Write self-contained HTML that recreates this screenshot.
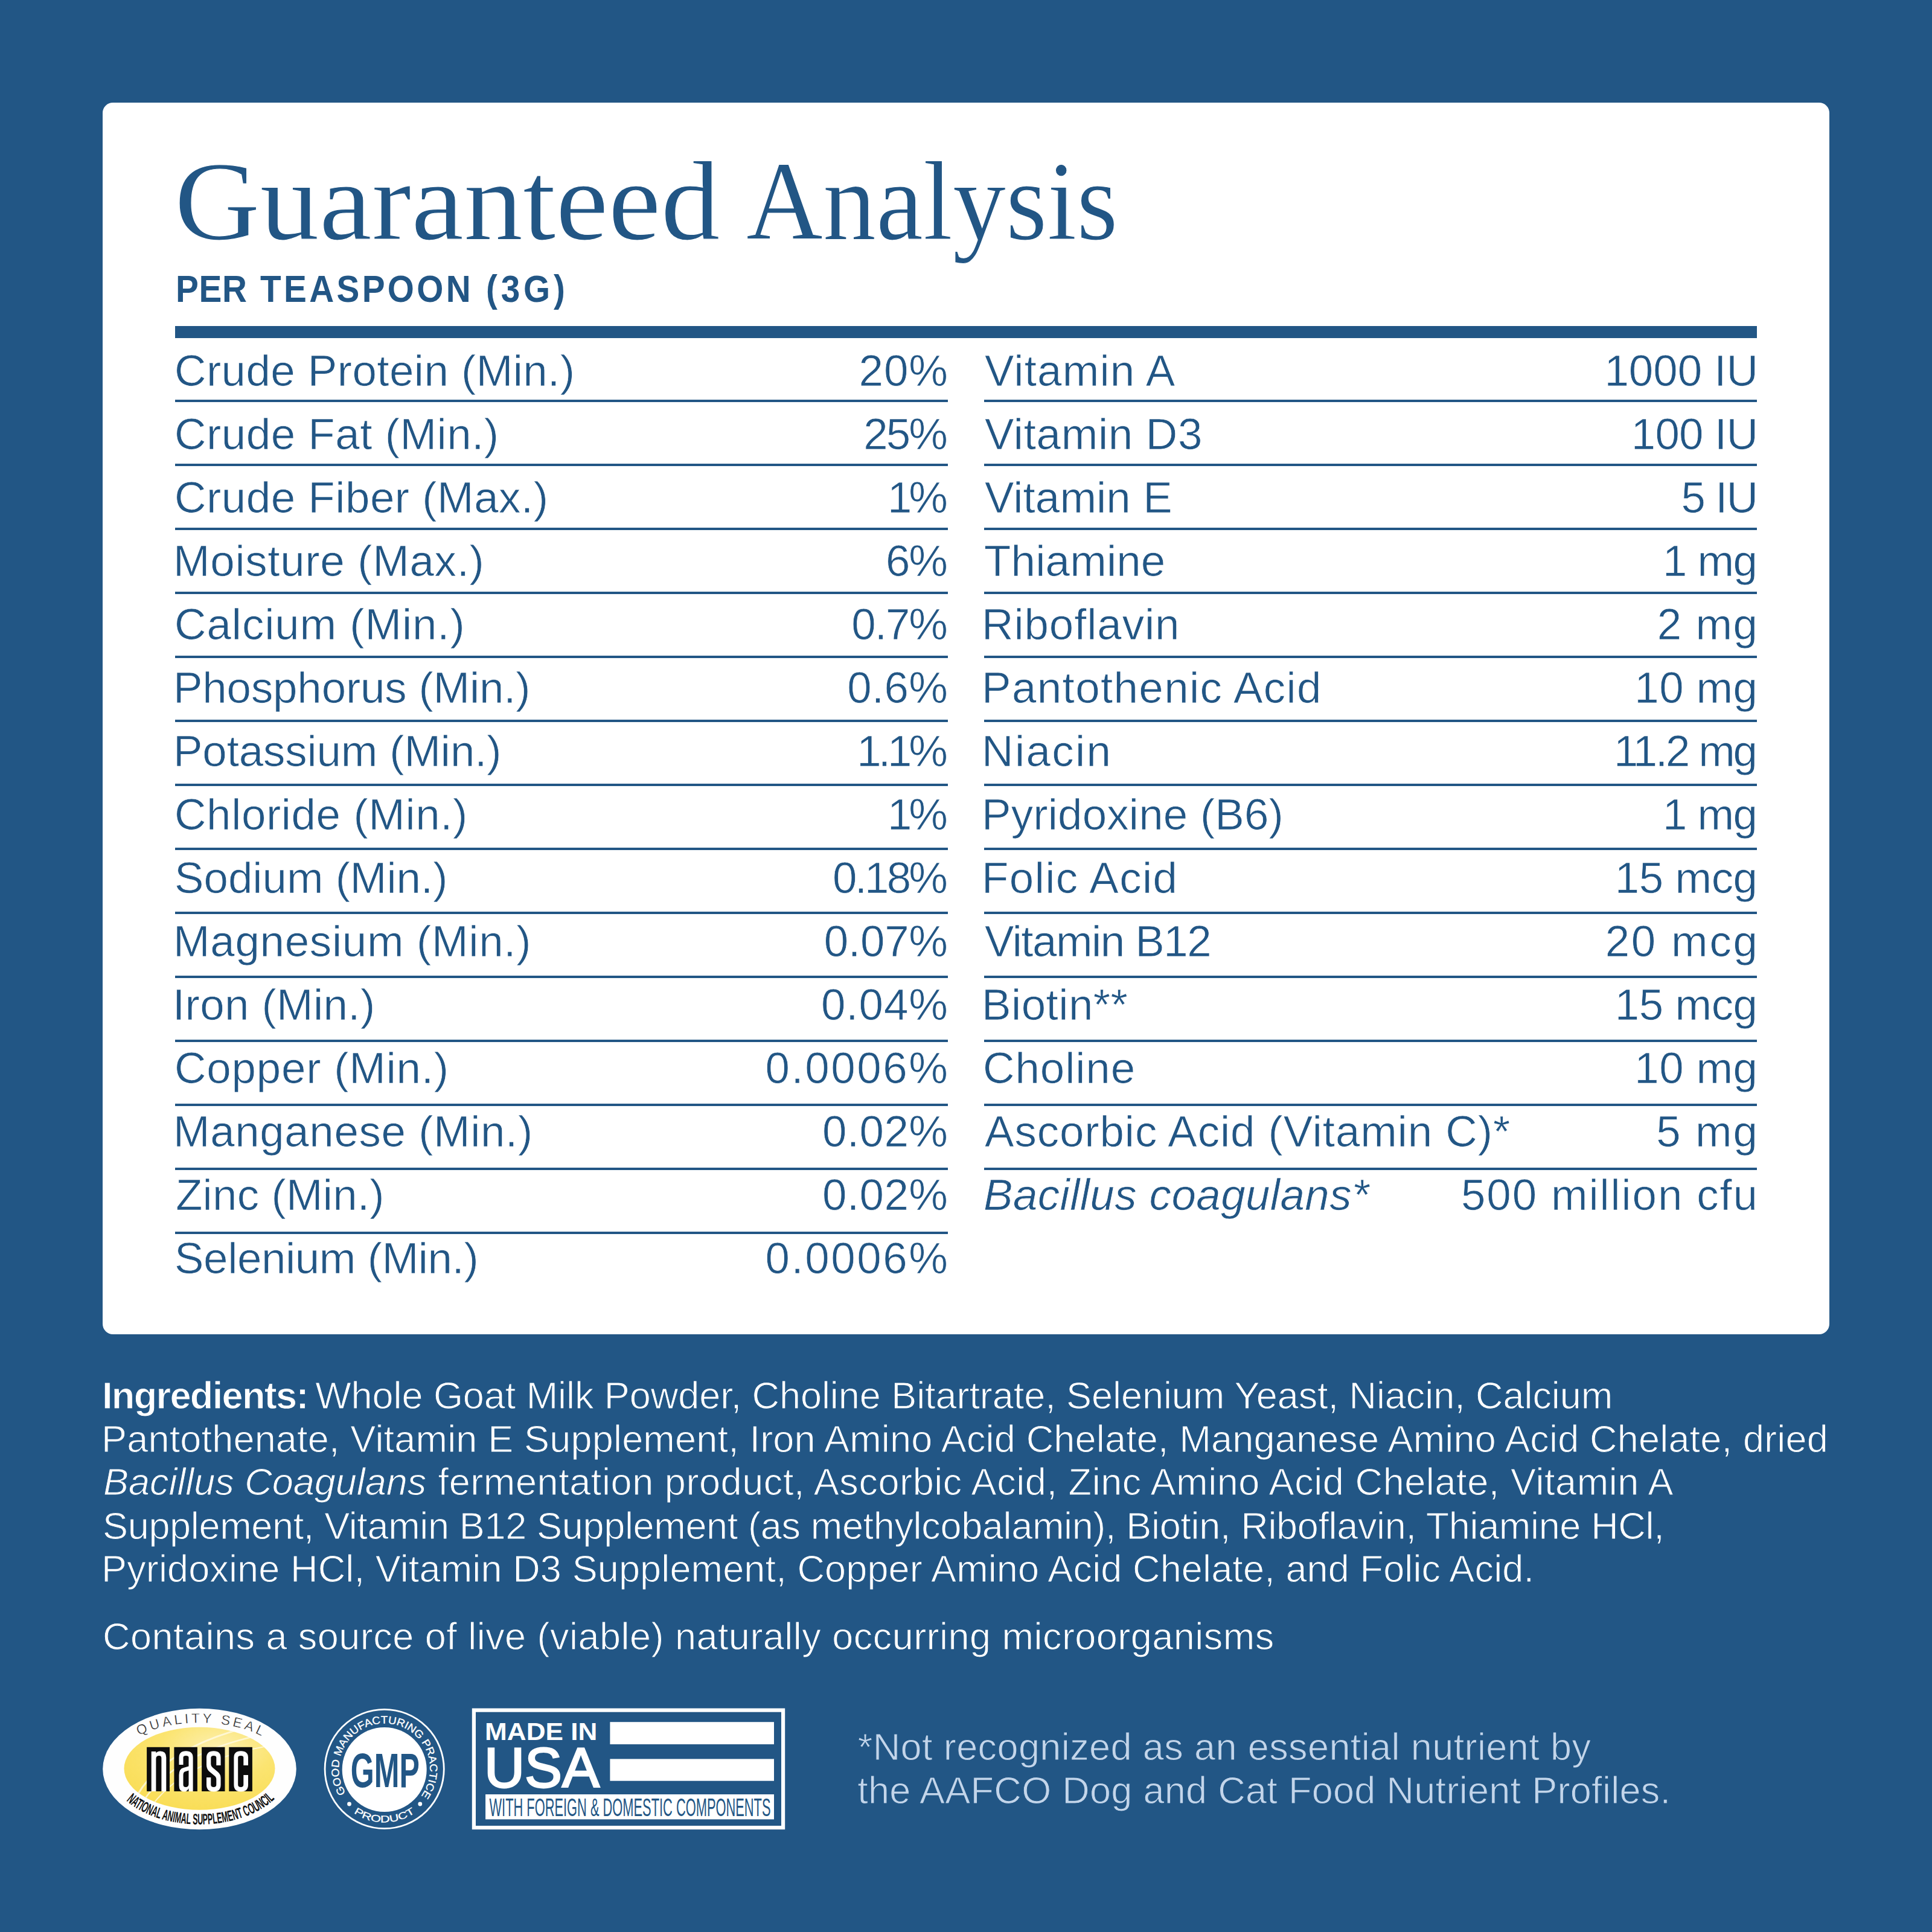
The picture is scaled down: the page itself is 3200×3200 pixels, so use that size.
<!DOCTYPE html>
<html><head><meta charset="utf-8"><title>Guaranteed Analysis</title>
<style>
*{margin:0;padding:0;box-sizing:border-box}
html,body{width:3200px;height:3200px;overflow:hidden;background:#225685}
body{position:relative;font-family:"Liberation Sans",sans-serif;color:#225685}
.a{position:absolute;white-space:nowrap}
.card{position:absolute;left:170px;top:170px;width:2860px;height:2040px;background:#fff;border-radius:17px}
.rl{position:absolute;background:#225685}
.t{position:absolute;white-space:nowrap;font-size:72.7px;line-height:72.7px;-webkit-text-stroke:0.7px #fff}
.ing{position:absolute;white-space:nowrap;font-size:63px;line-height:63px;color:#fff;-webkit-text-stroke:1px #225685}
.foot{position:absolute;white-space:nowrap;font-size:63px;line-height:63px;color:#c3d5ea;-webkit-text-stroke:1px #225685}
</style></head><body>
<div class="card"></div>
<div class="a" style="left:288.7px;top:240.2px;letter-spacing:0.00px;font-family:'Liberation Serif',serif;font-size:186px;line-height:186px;-webkit-text-stroke:1.1px #fff;transform:scaleX(1.0542);transform-origin:0 0">Guaranteed</div>
<div class="a" style="left:1235.7px;top:240.2px;letter-spacing:0.00px;font-family:'Liberation Serif',serif;font-size:186px;line-height:186px;-webkit-text-stroke:1.1px #fff;transform:scaleX(0.9458);transform-origin:0 0">Analysis</div>
<div class="a" style="left:290.5px;top:446.7px;letter-spacing:0.75px;font-weight:bold;font-size:63px;line-height:63px;transform:scaleX(0.9000);transform-origin:0 0">PER</div>
<div class="a" style="left:431.0px;top:446.7px;letter-spacing:4.85px;font-weight:bold;font-size:63px;line-height:63px;transform:scaleX(0.9000);transform-origin:0 0">TEASPOON</div>
<div class="a" style="left:804.5px;top:446.7px;letter-spacing:6.50px;font-weight:bold;font-size:63px;line-height:63px;transform:scaleX(0.9000);transform-origin:0 0">(3G)</div>
<div class="rl" style="left:290px;top:540px;width:2620px;height:20px"></div>
<div class="t" style="left:289.0px;top:578.3px;letter-spacing:0.45px">Crude Protein (Min.)</div>
<div class="t" style="right:1630.0px;top:578.3px;letter-spacing:1.00px;margin-right:-1.00px">20%</div>
<div class="t" style="left:289.0px;top:683.3px;letter-spacing:0.53px">Crude Fat (Min.)</div>
<div class="t" style="right:1630.0px;top:683.3px;letter-spacing:-2.90px;margin-right:2.90px">25%</div>
<div class="t" style="left:289.0px;top:788.3px;letter-spacing:0.53px">Crude Fiber (Max.)</div>
<div class="t" style="right:1630.0px;top:788.3px;letter-spacing:-5.00px;margin-right:5.00px">1%</div>
<div class="t" style="left:287.0px;top:893.3px;letter-spacing:0.71px">Moisture (Max.)</div>
<div class="t" style="right:1630.0px;top:893.3px;letter-spacing:-2.00px;margin-right:2.00px">6%</div>
<div class="t" style="left:289.0px;top:998.3px;letter-spacing:0.94px">Calcium (Min.)</div>
<div class="t" style="right:1630.0px;top:998.3px;letter-spacing:-2.00px;margin-right:2.00px">0.7%</div>
<div class="t" style="left:287.0px;top:1103.3px;letter-spacing:-0.15px">Phosphorus (Min.)</div>
<div class="t" style="right:1630.0px;top:1103.3px;letter-spacing:0.33px;margin-right:-0.33px">0.6%</div>
<div class="t" style="left:287.0px;top:1208.3px;letter-spacing:-0.12px">Potassium (Min.)</div>
<div class="t" style="right:1630.0px;top:1208.3px;letter-spacing:-5.00px;margin-right:5.00px">1.1%</div>
<div class="t" style="left:289.0px;top:1313.3px;letter-spacing:0.62px">Chloride (Min.)</div>
<div class="t" style="right:1630.0px;top:1313.3px;letter-spacing:-5.00px;margin-right:5.00px">1%</div>
<div class="t" style="left:289.0px;top:1418.3px;letter-spacing:-0.00px">Sodium (Min.)</div>
<div class="t" style="right:1630.0px;top:1418.3px;letter-spacing:-3.80px;margin-right:3.80px">0.18%</div>
<div class="t" style="left:287.0px;top:1523.3px;letter-spacing:0.72px">Magnesium (Min.)</div>
<div class="t" style="right:1630.0px;top:1523.3px;letter-spacing:-0.20px;margin-right:0.20px">0.07%</div>
<div class="t" style="left:286.0px;top:1628.3px;letter-spacing:0.40px">Iron (Min.)</div>
<div class="t" style="right:1630.0px;top:1628.3px;letter-spacing:1.00px;margin-right:-1.00px">0.04%</div>
<div class="t" style="left:289.0px;top:1733.3px;letter-spacing:0.81px">Copper (Min.)</div>
<div class="t" style="right:1630.0px;top:1733.3px;letter-spacing:2.61px;margin-right:-2.61px">0.0006%</div>
<div class="t" style="left:287.0px;top:1838.3px;letter-spacing:0.62px">Manganese (Min.)</div>
<div class="t" style="right:1630.0px;top:1838.3px;letter-spacing:0.45px;margin-right:-0.45px">0.02%</div>
<div class="t" style="left:291.0px;top:1943.3px;letter-spacing:0.22px">Zinc (Min.)</div>
<div class="t" style="right:1630.0px;top:1943.3px;letter-spacing:0.45px;margin-right:-0.45px">0.02%</div>
<div class="t" style="left:289.0px;top:2048.3px;letter-spacing:-0.38px">Selenium (Min.)</div>
<div class="t" style="right:1630.0px;top:2048.3px;letter-spacing:2.61px;margin-right:-2.61px">0.0006%</div>
<div class="rl" style="left:290px;top:662px;width:1280px;height:4px"></div>
<div class="rl" style="left:290px;top:768px;width:1280px;height:4px"></div>
<div class="rl" style="left:290px;top:874px;width:1280px;height:4px"></div>
<div class="rl" style="left:290px;top:980px;width:1280px;height:4px"></div>
<div class="rl" style="left:290px;top:1086px;width:1280px;height:4px"></div>
<div class="rl" style="left:290px;top:1192px;width:1280px;height:4px"></div>
<div class="rl" style="left:290px;top:1298px;width:1280px;height:4px"></div>
<div class="rl" style="left:290px;top:1404px;width:1280px;height:4px"></div>
<div class="rl" style="left:290px;top:1510px;width:1280px;height:4px"></div>
<div class="rl" style="left:290px;top:1616px;width:1280px;height:4px"></div>
<div class="rl" style="left:290px;top:1722px;width:1280px;height:4px"></div>
<div class="rl" style="left:290px;top:1828px;width:1280px;height:4px"></div>
<div class="rl" style="left:290px;top:1934px;width:1280px;height:4px"></div>
<div class="rl" style="left:290px;top:2040px;width:1280px;height:4px"></div>
<div class="t" style="left:1631.0px;top:578.3px;letter-spacing:1.20px">Vitamin A</div>
<div class="t" style="right:288.0px;top:578.3px;letter-spacing:0.00px;margin-right:-0.00px">1000 IU</div>
<div class="t" style="left:1631.0px;top:683.3px;letter-spacing:0.70px">Vitamin D3</div>
<div class="t" style="right:288.0px;top:683.3px;letter-spacing:-0.80px;margin-right:0.80px">100 IU</div>
<div class="t" style="left:1631.0px;top:788.3px;letter-spacing:0.12px">Vitamin E</div>
<div class="t" style="right:288.0px;top:788.3px;letter-spacing:-1.94px;margin-right:1.94px">5 IU</div>
<div class="t" style="left:1630.0px;top:893.3px;letter-spacing:0.19px">Thiamine</div>
<div class="t" style="right:289.0px;top:893.3px;letter-spacing:-1.54px;margin-right:1.54px">1 mg</div>
<div class="t" style="left:1626.0px;top:998.3px;letter-spacing:0.92px">Riboflavin</div>
<div class="t" style="right:289.0px;top:998.3px;letter-spacing:1.52px;margin-right:-1.52px">2 mg</div>
<div class="t" style="left:1626.0px;top:1103.3px;letter-spacing:1.40px">Pantothenic Acid</div>
<div class="t" style="right:289.0px;top:1103.3px;letter-spacing:0.40px;margin-right:-0.40px">10 mg</div>
<div class="t" style="left:1626.0px;top:1208.3px;letter-spacing:2.40px">Niacin</div>
<div class="t" style="right:289.0px;top:1208.3px;letter-spacing:-3.19px;margin-right:3.19px">11.2 mg</div>
<div class="t" style="left:1626.0px;top:1313.3px;letter-spacing:0.21px">Pyridoxine (B6)</div>
<div class="t" style="right:289.0px;top:1313.3px;letter-spacing:-1.54px;margin-right:1.54px">1 mg</div>
<div class="t" style="left:1626.0px;top:1418.3px;letter-spacing:1.43px">Folic Acid</div>
<div class="t" style="right:289.0px;top:1418.3px;letter-spacing:-0.40px;margin-right:0.40px">15 mcg</div>
<div class="t" style="left:1631.0px;top:1523.3px;letter-spacing:-1.50px">Vitamin B12</div>
<div class="t" style="right:289.0px;top:1523.3px;letter-spacing:2.80px;margin-right:-2.80px">20 mcg</div>
<div class="t" style="left:1626.0px;top:1628.3px;letter-spacing:0.50px">Biotin**</div>
<div class="t" style="right:289.0px;top:1628.3px;letter-spacing:-0.40px;margin-right:0.40px">15 mcg</div>
<div class="t" style="left:1628.0px;top:1733.3px;letter-spacing:0.93px">Choline</div>
<div class="t" style="right:289.0px;top:1733.3px;letter-spacing:0.40px;margin-right:-0.40px">10 mg</div>
<div class="t" style="left:1631.0px;top:1838.3px;letter-spacing:0.93px">Ascorbic Acid (Vitamin C)*</div>
<div class="t" style="right:289.0px;top:1838.3px;letter-spacing:2.06px;margin-right:-2.06px">5 mg</div>
<div class="t" style="left:1629.0px;top:1943.3px;letter-spacing:0.44px"><i>Bacillus coagulans*</i></div>
<div class="t" style="right:289.0px;top:1943.3px;letter-spacing:1.88px;margin-right:-1.88px">500 million cfu</div>
<div class="rl" style="left:1630px;top:662px;width:1280px;height:4px"></div>
<div class="rl" style="left:1630px;top:768px;width:1280px;height:4px"></div>
<div class="rl" style="left:1630px;top:874px;width:1280px;height:4px"></div>
<div class="rl" style="left:1630px;top:980px;width:1280px;height:4px"></div>
<div class="rl" style="left:1630px;top:1086px;width:1280px;height:4px"></div>
<div class="rl" style="left:1630px;top:1192px;width:1280px;height:4px"></div>
<div class="rl" style="left:1630px;top:1298px;width:1280px;height:4px"></div>
<div class="rl" style="left:1630px;top:1404px;width:1280px;height:4px"></div>
<div class="rl" style="left:1630px;top:1510px;width:1280px;height:4px"></div>
<div class="rl" style="left:1630px;top:1616px;width:1280px;height:4px"></div>
<div class="rl" style="left:1630px;top:1722px;width:1280px;height:4px"></div>
<div class="rl" style="left:1630px;top:1828px;width:1280px;height:4px"></div>
<div class="rl" style="left:1630px;top:1934px;width:1280px;height:4px"></div>
<div class="ing" style="left:169.0px;top:2279.7px;letter-spacing:-1.64px"><b>Ingredients:</b></div>
<div class="ing" style="left:522.2px;top:2279.7px;letter-spacing:-0.06px">Whole Goat Milk Powder, Choline Bitartrate, Selenium Yeast, Niacin, Calcium</div>
<div class="ing" style="left:168.0px;top:2351.7px;letter-spacing:0.18px">Pantothenate, Vitamin E Supplement, Iron Amino Acid Chelate, Manganese Amino Acid Chelate, dried</div>
<div class="ing" style="left:171.0px;top:2423.2px;letter-spacing:-0.04px"><i>Bacillus Coagulans</i></div>
<div class="ing" style="left:725.6px;top:2423.2px;letter-spacing:0.58px">fermentation product, Ascorbic Acid, Zinc Amino Acid Chelate, Vitamin A</div>
<div class="ing" style="left:170.0px;top:2495.5px;letter-spacing:-0.34px">Supplement, Vitamin B12 Supplement (as methylcobalamin), Biotin, Riboflavin, Thiamine HCl,</div>
<div class="ing" style="left:168.0px;top:2566.7px;letter-spacing:0.13px">Pyridoxine HCl, Vitamin D3 Supplement, Copper Amino Acid Chelate, and Folic Acid.</div>
<div class="ing" style="left:170.0px;top:2679.3px;letter-spacing:0.47px">Contains a source of live (viable) naturally occurring microorganisms</div>
<div class="foot" style="left:1420.8px;top:2861.7px;letter-spacing:0.39px">*Not recognized as an essential nutrient by</div>
<div class="foot" style="left:1420.2px;top:2933.7px;letter-spacing:0.29px">the AAFCO Dog and Cat Food Nutrient Profiles.</div>
<svg class="a" style="left:0;top:0" width="3200" height="3200" viewBox="0 0 3200 3200">
<defs>
<radialGradient id="yg" cx="0.62" cy="0.25" r="0.85">
<stop offset="0" stop-color="#fdf0b0"/><stop offset="0.45" stop-color="#fbe470"/><stop offset="1" stop-color="#f9dc52"/></radialGradient>
<clipPath id="yc"><ellipse cx="330.5" cy="2929.3" rx="125" ry="68.5"/></clipPath>
</defs>
<ellipse cx="330.5" cy="2930" rx="160.3" ry="100.3" fill="#fefefe"/>
<ellipse cx="330.5" cy="2929.3" rx="125" ry="68.5" fill="url(#yg)"/>
<g clip-path="url(#yc)" fill="none" stroke="#fffbe8" stroke-opacity="0.75"><path d="M215,3000 Q250,2900 420,2858" stroke-width="3"/><path d="M228,3000 Q275,2905 440,2872" stroke-width="2.5"/><path d="M245,3000 Q300,2915 455,2890" stroke-width="2"/></g>
<rect x="243.1" y="2893.8" width="37.9" height="73.2" fill="#0c0c0c"/><rect x="288.4" y="2893.8" width="38.5" height="73.2" fill="#0c0c0c"/><rect x="334.1" y="2893.8" width="38.4" height="73.2" fill="#0c0c0c"/><rect x="379.3" y="2893.8" width="38.6" height="73.2" fill="#0c0c0c"/>
<g fill="#fff"><path d="M250.7,2967 V2901 H258.4 V2903.5 Q261,2900.6 265.5,2900.6 Q275.3,2900.6 275.3,2911 V2967 H267.4 V2912 Q267.4,2908 263.5,2908 Q258.4,2908 258.4,2913 V2967 Z"/><path d="M296.5,2923 V2911 Q296.5,2900.3 308,2900.3 Q319.6,2900.3 319.6,2911 V2967 H312.5 V2962 Q310,2967.5 304.5,2967.5 Q296.5,2967.5 296.5,2957 V2940 Q296.5,2929.5 304,2928 L312.5,2925.5 V2911 Q312.5,2908 308,2908 Q303.5,2908 303.5,2911 V2923 Z M312.5,2932.5 L306,2934.5 Q303.5,2935.5 303.5,2940 V2956 Q303.5,2960 307.5,2960 Q312.5,2960 312.5,2955 Z" fill-rule="evenodd"/><path d="M365.6,2924 H358.3 V2911 Q358.3,2908 354,2908 Q349.3,2908 349.3,2911.5 V2922 Q349.3,2925 352,2927.5 L361,2935 Q365.6,2939 365.6,2945 V2956 Q365.6,2967.5 354,2967.5 Q342,2967.5 342,2956 V2944 H349.3 V2956 Q349.3,2960 354,2960 Q358.3,2960 358.3,2956 V2947 Q358.3,2943.5 355,2941 L346.5,2934 Q342,2930 342,2923 V2911.5 Q342,2900.3 354,2900.3 Q365.6,2900.3 365.6,2911 Z"/><path d="M411,2924 H403.3 V2911 Q403.3,2908 399,2908 Q394.2,2908 394.2,2911 V2956 Q394.2,2960 399,2960 Q403.3,2960 403.3,2956 V2940 H411 V2956 Q411,2967.5 399,2967.5 Q387.4,2967.5 387.4,2956 V2911 Q387.4,2900.3 399,2900.3 Q411,2900.3 411,2911 Z"/></g>
<path id="qs" d="M184.5,2930.0 A146.0,76.5 0 0 1 476.5,2930.0" fill="none"/><text font-family="Liberation Sans" font-size="22.5" fill="#1a1a1a" stroke="#fff" stroke-width="0.45"><textPath href="#qs" startOffset="75.5" textLength="209.3" lengthAdjust="spacing">QUALITY SEAL</textPath></text>
<path id="nc" d="M182.5,2930.0 A148.0,91.8 0 0 0 478.5,2930.0" fill="none"/><text font-family="Liberation Sans" font-weight="bold" font-size="25" fill="#111"><textPath href="#nc" startOffset="60.5" textLength="264.9" lengthAdjust="spacingAndGlyphs">NATIONAL ANIMAL SUPPLEMENT COUNCIL</textPath></text>
<circle cx="636.7" cy="2930.0" r="98.6" fill="none" stroke="#fff" stroke-width="2.8"/>
<circle cx="636.7" cy="2931" r="70" fill="#fff"/>
<text x="580.8" y="2960" font-family="Liberation Sans" font-weight="bold" font-size="80" fill="#225685" textLength="114" lengthAdjust="spacingAndGlyphs">GMP</text>
<path id="gt" d="M572.67,2970.01 A75.5,75.5 0 1 1 697.78,2974.38" fill="none"/><text font-family="Liberation Sans" font-size="17.5" fill="#fff" stroke="#fff" stroke-width="0.35"><textPath href="#gt" startOffset="0" textLength="326.8" lengthAdjust="spacingAndGlyphs">GOOD MANUFACTURING PRACTICE</textPath></text>
<path id="gb" d="M585.94,3002.49 A88.5,88.5 0 0 0 687.46,3002.49" fill="none"/><text font-family="Liberation Sans" font-size="16" fill="#fff" stroke="#fff" stroke-width="0.3"><textPath href="#gb" startOffset="0" textLength="108.1" lengthAdjust="spacingAndGlyphs">PRODUCT</textPath></text>
<circle cx="578.5" cy="2988" r="3.4" fill="#fff"/><circle cx="695.8" cy="2988" r="3.4" fill="#fff"/>
<rect x="784.9" y="2832.6" width="512.2" height="194.5" fill="none" stroke="#fff" stroke-width="6.2"/>
<rect x="1010.4" y="2852.2" width="271.6" height="36.9" fill="#fff"/>
<rect x="1010.4" y="2913.4" width="271.6" height="36.3" fill="#fff"/>
<rect x="804.1" y="2972" width="477.9" height="41.4" fill="#fff"/>
<text x="803" y="2881.5" font-family="Liberation Sans" font-weight="bold" font-size="41.5" fill="#fff" textLength="186.4" lengthAdjust="spacingAndGlyphs">MADE IN</text>
<text x="802" y="2959.5" font-family="Liberation Sans" font-size="93" fill="#fff" stroke="#fff" stroke-width="2.8" textLength="190.8" lengthAdjust="spacingAndGlyphs">USA</text>
<text x="810.5" y="3007.8" font-family="Liberation Sans" font-size="42" fill="#225685" textLength="466" lengthAdjust="spacingAndGlyphs">WITH FOREIGN &amp; DOMESTIC COMPONENTS</text>
</svg>
</body></html>
